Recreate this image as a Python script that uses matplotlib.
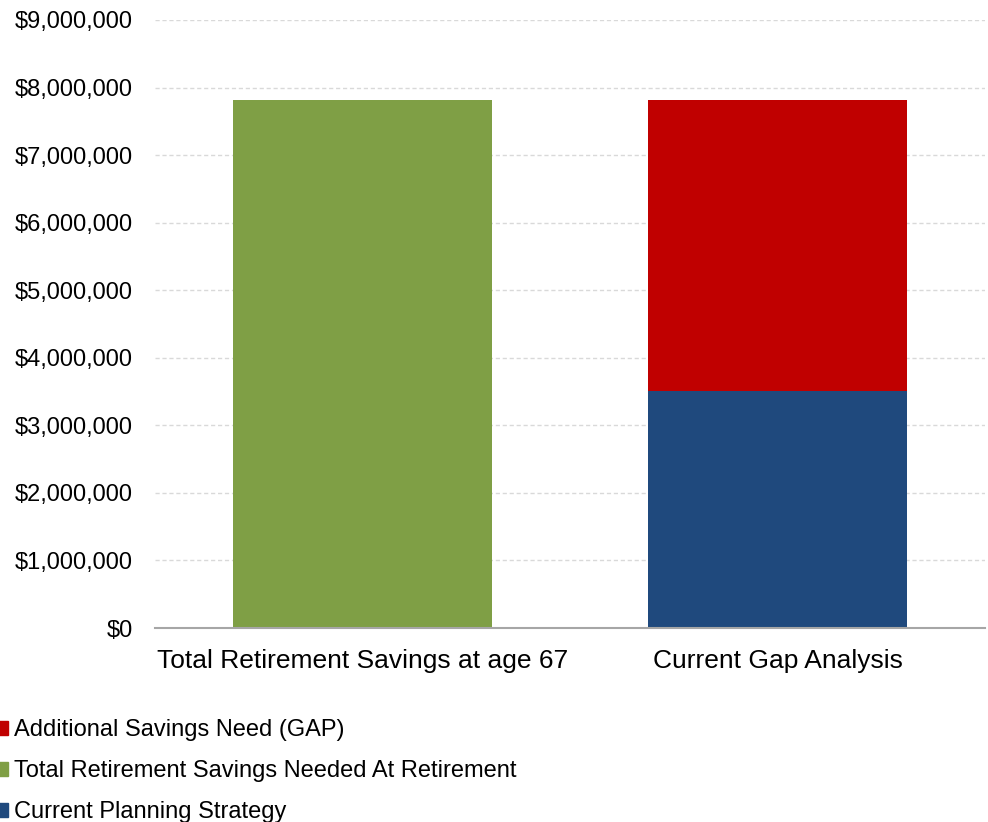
import matplotlib
matplotlib.use("Agg")
import matplotlib.pyplot as plt
from matplotlib.patches import Patch
from matplotlib.ticker import FuncFormatter

plt.rcParams['font.family'] = ['Liberation Sans', 'DejaVu Sans']

categories = ["Total Retirement Savings at age 67", "Current Gap Analysis"]
total_needed = [7820000, 0]
current_strategy = [0, 3505000]
gap = [0, 4310000]

green = "#7f9f45"
blue = "#1f497d"
red = "#c00000"

fig = plt.figure(figsize=(9.88, 8.22), dpi=100)
ax = fig.add_axes([0.157, 0.236, 0.84, 0.7397])

x = list(range(len(categories)))
w = 0.625
ax.bar(x, total_needed, width=w, color=green, zorder=3)
ax.bar(x, current_strategy, width=w, color=blue, zorder=3)
ax.bar(x, gap, width=w, bottom=current_strategy, color=red, zorder=3)

ax.set_xlim(-0.5, 1.5)
ax.set_ylim(0, 9000000)
ax.set_yticks(range(0, 9000001, 1000000))
ax.yaxis.set_major_formatter(FuncFormatter(lambda v, p: f"${v:,.0f}"))
ax.set_xticks(x)
ax.set_xticklabels(categories)
ax.tick_params(axis='both', length=0, colors='black')
ax.tick_params(axis='x', pad=15, labelsize=19)
ax.tick_params(axis='y', pad=16, labelsize=17)
ax.grid(axis='y', color='#d9d9d9', linestyle=(0, (3, 2)), linewidth=1, zorder=0)
for s in ['top', 'right', 'left']:
    ax.spines[s].set_visible(False)
ax.spines['bottom'].set_color('#a6a6a6')
ax.spines['bottom'].set_linewidth(1.5)
ax.spines['bottom'].set_zorder(4)

handles = [Patch(color=red), Patch(color=green), Patch(color=blue)]
labels = ["Additional Savings Need (GAP)",
          "Total Retirement Savings Needed At Retirement",
          "Current Planning Strategy"]
fig.legend(handles, labels, loc='upper left', bbox_to_anchor=(-0.004, 0.125),
           frameon=False, fontsize=17, handlelength=0.5, handleheight=0.55,
           handletextpad=0.28, labelspacing=0.8, borderaxespad=0, borderpad=0)

fig.savefig("out.png", dpi=100)
